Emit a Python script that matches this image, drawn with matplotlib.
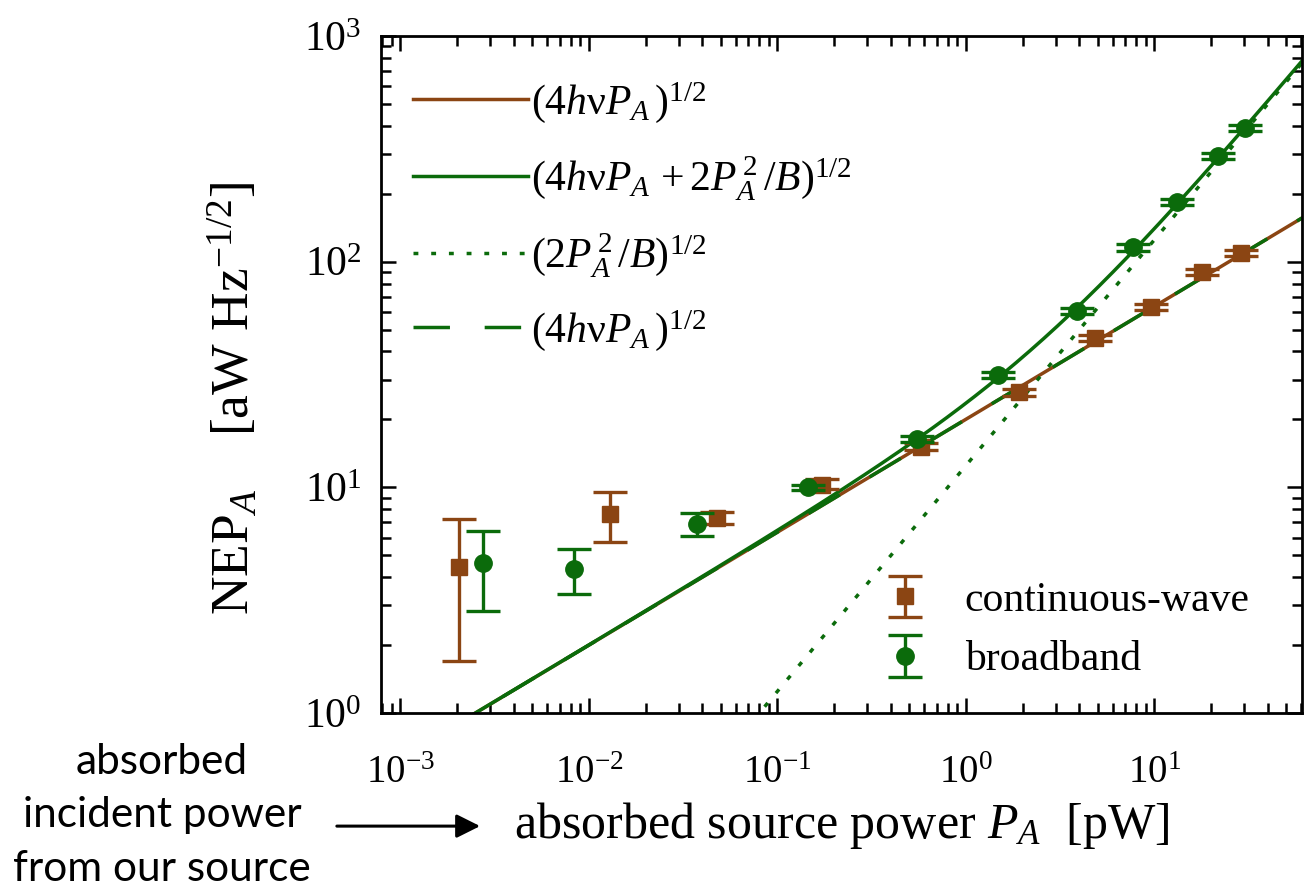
import numpy as np
import matplotlib.pyplot as plt
from matplotlib.ticker import LogLocator

plt.rcParams['font.family'] = 'Liberation Serif'
plt.rcParams['mathtext.fontset'] = 'custom'
plt.rcParams['mathtext.rm'] = 'Liberation Serif'
plt.rcParams['mathtext.it'] = 'Liberation Serif:italic'

brown = '#8b4513'
green = '#0b6b0b'

# continuous-wave data (P_A in pW, NEP in aW/Hz^1/2)
cw_p = [2.05e-3, 0.0129, 0.048, 0.173, 0.578, 1.91, 4.87, 9.64, 17.9, 28.9]
cw_nep = [4.43, 7.62, 7.31, 10.3, 15.1, 26.4, 45.9, 62.9, 89.9, 109]
cw_lo = [1.70, 5.72, 6.88, 9.8, 14.6, 25.5, 44.5, 61.0, 87.0, 105.5]
cw_hi = [7.24, 9.53, 7.78, 10.9, 15.7, 27.3, 47.3, 65.0, 93.0, 112.5]

# broadband data
bb_p = [2.75e-3, 8.33e-3, 0.0373, 0.146, 0.551, 1.48, 3.87, 7.74, 13.2, 21.8, 30.3]
bb_nep = [4.62, 4.35, 6.88, 10.0, 16.4, 31.4, 60.4, 116, 184, 294, 391]
bb_lo = [2.83, 3.37, 6.09, 9.7, 15.9, 30.4, 58.5, 112, 178, 285, 379]
bb_hi = [6.40, 5.33, 7.69, 10.3, 16.9, 32.4, 62.3, 120, 190, 303, 403]

# model coefficients
c_shot = 401.0   # 4 h nu
c_wave = 156.0   # 2 / B

x_lim = (7.9e-4, 61)
y_lim = (1, 1000)

fig = plt.figure(figsize=(13.05, 8.96), dpi=100)
ax = fig.add_axes([0.292, 0.204, 0.706, 0.756])

p = np.logspace(np.log10(x_lim[0]), np.log10(x_lim[1]), 400)
shot = np.sqrt(c_shot * p)
wave = np.sqrt(c_wave * p ** 2)
total = np.sqrt(c_shot * p + c_wave * p ** 2)

lw = 2.5
l1, = ax.plot(p, shot, color=brown, lw=lw)
l4, = ax.plot(p, shot, color=green, lw=lw, ls=(0, (10.5, 10)))
l2, = ax.plot(p, total, color=green, lw=lw)
l3, = ax.plot(p, wave, color=green, lw=lw, ls=(0, (1.4, 3.7)))

cw_err = [np.array(cw_nep) - np.array(cw_lo), np.array(cw_hi) - np.array(cw_nep)]
bb_err = [np.array(bb_nep) - np.array(bb_lo), np.array(bb_hi) - np.array(bb_nep)]
e1 = ax.errorbar(cw_p, cw_nep, yerr=cw_err, fmt='s', color=brown, ms=12,
                 elinewidth=2.4, capsize=12.5, capthick=2.4, zorder=5)
e2 = ax.errorbar(bb_p, bb_nep, yerr=bb_err, fmt='o', color=green, ms=12.5,
                 elinewidth=2.4, capsize=12.5, capthick=2.4, zorder=6)

ax.set_xscale('log')
ax.set_yscale('log')
ax.set_xlim(*x_lim)
ax.set_ylim(*y_lim)
ax.xaxis.set_major_locator(LogLocator(base=10, numticks=20))
ax.xaxis.set_minor_locator(LogLocator(base=10, subs=np.arange(2, 10), numticks=20))

ax.tick_params(which='both', direction='in', top=True, right=True, width=1.8)
ax.tick_params(which='major', length=11)
ax.tick_params(which='minor', length=7.5)
ax.tick_params(axis='x', labelsize=28, pad=30)
ax.tick_params(axis='y', labelsize=30, pad=14)
for s in ax.spines.values():
    s.set_linewidth(2)

ax.set_xlabel(r'absorbed source power $P_A$  [pW]', fontsize=36, labelpad=6)
ax.set_ylabel(r'NEP$_A$    [aW Hz$^{-1/2}$]', fontsize=38.5)
ax.yaxis.set_label_coords(-0.131, 0.465)

leg1 = ax.legend([l1, l2, l3, l4],
                 [r'$(4h\mathrm{\nu}P_A\,)^{1/2}$',
                  r'$(4h\mathrm{\nu}P_A\, + 2P_A^{\,2}\,/B)^{1/2}$',
                  r'$(2P_A^{\,2}\,/B)^{1/2}$',
                  r'$(4h\mathrm{\nu}P_A\,)^{1/2}$'],
                 loc='upper left', bbox_to_anchor=(0.035, 0.935), frameon=False,
                 fontsize=30, handlelength=2.75, handletextpad=0.08,
                 labelspacing=0.7, borderaxespad=0, borderpad=0)
ax.add_artist(leg1)

leg2 = ax.legend([e1, e2], ['continuous-wave', 'broadband'],
                 loc='lower right', bbox_to_anchor=(0.943, 0.05), frameon=False,
                 fontsize=30, handlelength=1.0, handletextpad=0.93,
                 labelspacing=0.5, borderaxespad=0, borderpad=0)

fig.text(0.124, 0.09, 'absorbed\nincident power\nfrom our source',
         family='Lato', fontsize=30.5, ha='center', va='center', linespacing=1.5)
ax.annotate('', xy=(0.37, 0.078), xytext=(0.256, 0.078), xycoords='figure fraction',
            textcoords='figure fraction',
            arrowprops=dict(arrowstyle='-|>', color='black', lw=2.2, mutation_scale=36))

fig.savefig('out.png', dpi=100)
